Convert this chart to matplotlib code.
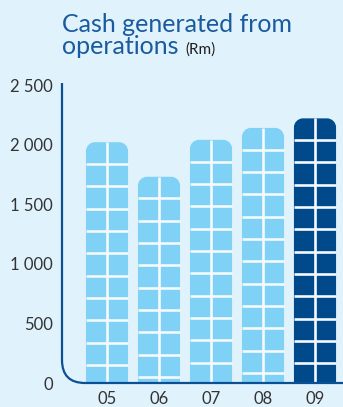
import matplotlib
matplotlib.use("Agg")
import matplotlib.pyplot as plt
from matplotlib.path import Path
from matplotlib.patches import PathPatch

# Data
years = ["05", "06", "07", "08", "09"]
cash_rm = [2020, 1730, 2040, 2140, 2220]
yticks = [0, 500, 1000, 1500, 2000, 2500]
ytick_labels = ["0", "500", "1 000", "1 500", "2 000", "2 500"]

# Style
BG = "#e0f2fc"
LIGHT = "#7fd1f5"
DARK = "#004a8c"
AXIS = "#0b4f94"
TITLE = "#1a5a9e"
TEXT = "#333333"
GAP = "#f4fafe"
bar_colors = [LIGHT, LIGHT, LIGHT, LIGHT, DARK]
FONT = "Lato"

W, H, DPI = 343, 407, 100
fig = plt.figure(figsize=(W / DPI, H / DPI), dpi=DPI)
fig.patch.set_facecolor(BG)

ax_left, ax_right, ax_top, ax_bottom = 62, 343, 85, 383
ax = fig.add_axes([ax_left / W, (H - ax_bottom) / H,
                   (ax_right - ax_left) / W, (ax_bottom - ax_top) / H])
ax.set_facecolor(BG)

x_unit_px = 52.0
x0 = (ax_left - 107) / x_unit_px
ax.set_xlim(x0, (ax_right - 107) / x_unit_px)
ax.set_ylim(0, 2500)
y_px = (ax_bottom - ax_top) / 2500.0   # pixels per Rm unit


def px_x(p):
    return p / x_unit_px


def px_y(p):
    return p / y_px


width = 0.81
rx, ry = px_x(9), px_y(9)
K = 0.5523
cell = px_y(22.33)


def rounded_top(left, right, top):
    verts = [
        (left, 0), (left, top - ry),
        (left, top - ry + K * ry), (left + rx - K * rx, top), (left + rx, top),
        (right - rx, top),
        (right - rx + K * rx, top), (right, top - ry + K * ry), (right, top - ry),
        (right, 0), (left, 0),
    ]
    codes = [Path.MOVETO, Path.LINETO,
             Path.CURVE4, Path.CURVE4, Path.CURVE4,
             Path.LINETO,
             Path.CURVE4, Path.CURVE4, Path.CURVE4,
             Path.LINETO, Path.CLOSEPOLY]
    return Path(verts, codes)


for i, (val, col) in enumerate(zip(cash_rm, bar_colors)):
    left, right = i - width / 2, i + width / 2
    ax.add_patch(PathPatch(rounded_top(left, right, val), facecolor=col,
                           edgecolor="none", zorder=2))
    # window-pane dividers
    ax.vlines(i, 0, val, color=GAP, lw=1.9, zorder=3)
    ys = []
    y = val - px_y(21.7)
    while y > px_y(2):
        ys.append(y)
        y -= cell
    ax.hlines(ys, left, right, color=GAP, lw=1.9, zorder=3)

# Axis line with a rounded corner
r_px = 23
axis_path = Path(
    [(x0, px_y(ax_bottom - 83)), (x0, px_y(r_px)), (x0, 0),
     (x0 + px_x(r_px), 0), (x0 + px_x(400), 0)],
    [Path.MOVETO, Path.LINETO, Path.CURVE3, Path.CURVE3, Path.LINETO])
ax.add_patch(PathPatch(axis_path, facecolor="none", edgecolor=AXIS, lw=1.6,
                       zorder=4, clip_on=False, capstyle="butt"))

for s in ax.spines.values():
    s.set_visible(False)

ax.set_yticks(yticks)
ax.set_yticklabels(ytick_labels)
ax.set_xticks(range(len(years)))
ax.set_xticklabels(years)
ax.tick_params(axis="both", length=0, labelsize=12, labelcolor=TEXT)
ax.tick_params(axis="y", pad=6.5)
ax.tick_params(axis="x", pad=6)
for lab in ax.get_xticklabels() + ax.get_yticklabels():
    lab.set_fontfamily(FONT)

# Title
fig.text(62 / W, 1 - 32 / H, "Cash generated from", fontsize=18,
         family=FONT, color=TITLE, va="baseline", ha="left")
t2 = fig.text(62 / W, 1 - 54 / H, "operations", fontsize=18,
              family=FONT, color=TITLE, va="baseline", ha="left")
renderer = fig.canvas.get_renderer()
bb = t2.get_window_extent(renderer=renderer)
fig.text((bb.x1 + 7) / W, 1 - 54 / H, "(Rm)", fontsize=11, family=FONT,
         color="#1e1e1e", va="baseline", ha="left")

fig.savefig("out.png", dpi=DPI, facecolor=BG)
